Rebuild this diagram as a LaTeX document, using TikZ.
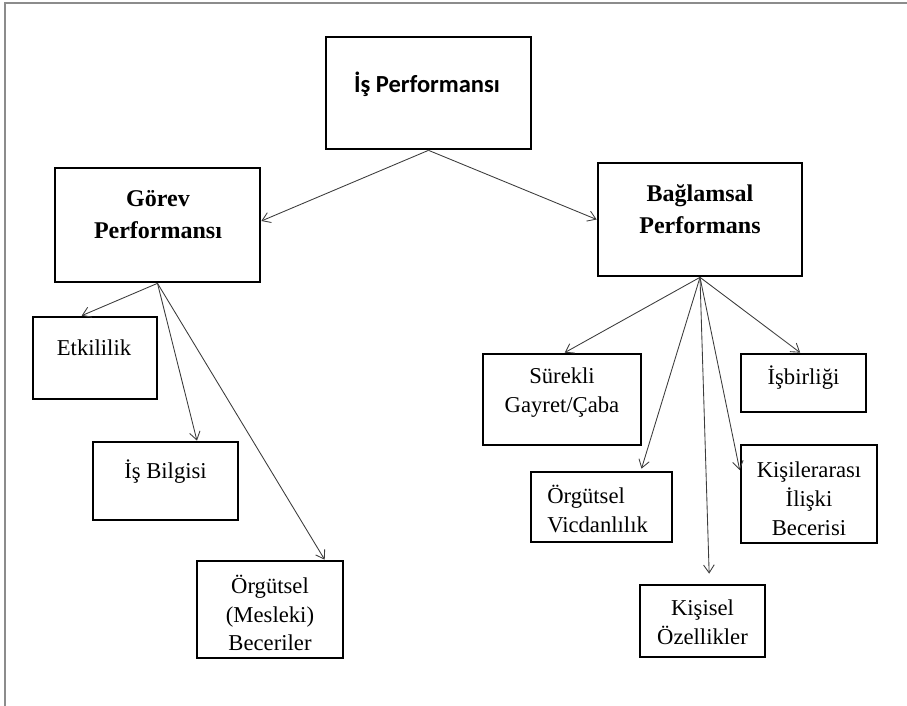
\documentclass[tikz,border=0pt]{standalone}
\usepackage{fontspec}
\setmainfont{Liberation Serif}
\newfontfamily\headfont{Carlito}
\usetikzlibrary{arrows.meta}
\definecolor{framegray}{RGB}{140,140,140}
\definecolor{linkgray}{RGB}{60,60,60}
\tikzset{
  pbox/.style 2 args={draw=black, line width=2pt, rectangle, inner sep=0pt,
    minimum width=#1*0.75pt, minimum height=#2*0.75pt},
  lbl/.style={font=\fontsize{17}{21.6}\selectfont, align=center, inner sep=0pt},
  blbl/.style={font=\fontsize{18}{23.5}\selectfont\bfseries, align=center, inner sep=0pt},
  link/.style={draw=linkgray, line width=0.65pt,
    -{Straight Barb[length=6pt, width=8pt, line width=0.65pt]}},
}
\begin{document}
\begin{tikzpicture}[x=0.75pt, y=-0.75pt]
  \useasboundingbox (0,0) rectangle (907,706);
  % page frame
  \draw[framegray, line width=1.1pt] (907,3) -- (5,3) -- (5,706);

  % boxes
  \node[pbox={205}{112}] (ip)    at (428.5,93)   {};
  \node[pbox={205}{114}] (gorev) at (157.5,225)  {};
  \node[pbox={124}{82}]  (etk)   at (95,358)     {};
  \node[pbox={145}{78}]  (isb)   at (165.5,481)  {};
  \node[pbox={146}{97}]  (orgb)  at (270,609.5)  {};
  \node[pbox={204}{113}] (bag)   at (700,219.5)  {};
  \node[pbox={158}{91}]  (sur)   at (562,399.5)  {};
  \node[pbox={125}{58}]  (isbir) at (803.5,383)  {};
  \node[pbox={141}{70}]  (vic)   at (601.5,507)  {};
  \node[pbox={136}{98}]  (kisi)  at (809,494)    {};
  \node[pbox={125}{72}]  (kisel) at (702.5,621)  {};

  % texts
  \node[font=\headfont\fontsize{18.4}{22}\selectfont\bfseries, inner sep=0pt] (ip-t) at (427,84) {İş Performansı};
  \node[blbl] (gorev-t) at (158,214.5) {Görev\\Performansı};
  \node[lbl] (etk-t)   at (94,348)    {Etkililik};
  \node[lbl] (isb-t)   at (165.5,472) {İş Bilgisi};
  \node[lbl] (orgb-t)  at (270,613)   {Örgütsel\\(Mesleki)\\Beceriler};
  \node[blbl] (bag-t)  at (700,209)   {Bağlamsal\\Performans};
  \node[lbl] (sur-t)   at (562,392.5) {Sürekli\\Gayret/Çaba};
  \node[lbl] (isbir-t) at (803.5,378) {İşbirliği};
  \node[lbl, align=left, anchor=west] (vic-t) at (547,509) {Örgütsel\\Vicdanlılık};
  \node[lbl] (kisi-t)  at (809,498.5) {Kişilerarası\\İlişki\\Becerisi};
  \node[lbl] (kisel-t) at (702.5,622.5) {Kişisel\\Özellikler};

  % connectors
  \draw[link] (ip.south) -- ([yshift=3pt]gorev.east);
  \draw[link] (ip.south) -- (bag.west);
  \draw[link] (gorev.south) -- ([xshift=-10pt]etk.north);
  \draw[link] (gorev.south) -- ([xshift=23.6pt]isb.north);
  \draw[link] (gorev.south) -- ([xshift=41pt]orgb.north);
  \draw[link] (bag.south) -- ([xshift=2pt]sur.north);
  \draw[link] (bag.south) -- ([xshift=-2.5pt]isbir.north);
  \draw[link] (bag.south) -- ([xshift=30pt, yshift=1.5pt]vic.north);
  \draw[link] (bag.south) -- ([yshift=18pt]kisi.west);
  \draw[link] (bag.south) -- ([xshift=5pt, yshift=7.5pt]kisel.north);
\end{tikzpicture}
\end{document}
